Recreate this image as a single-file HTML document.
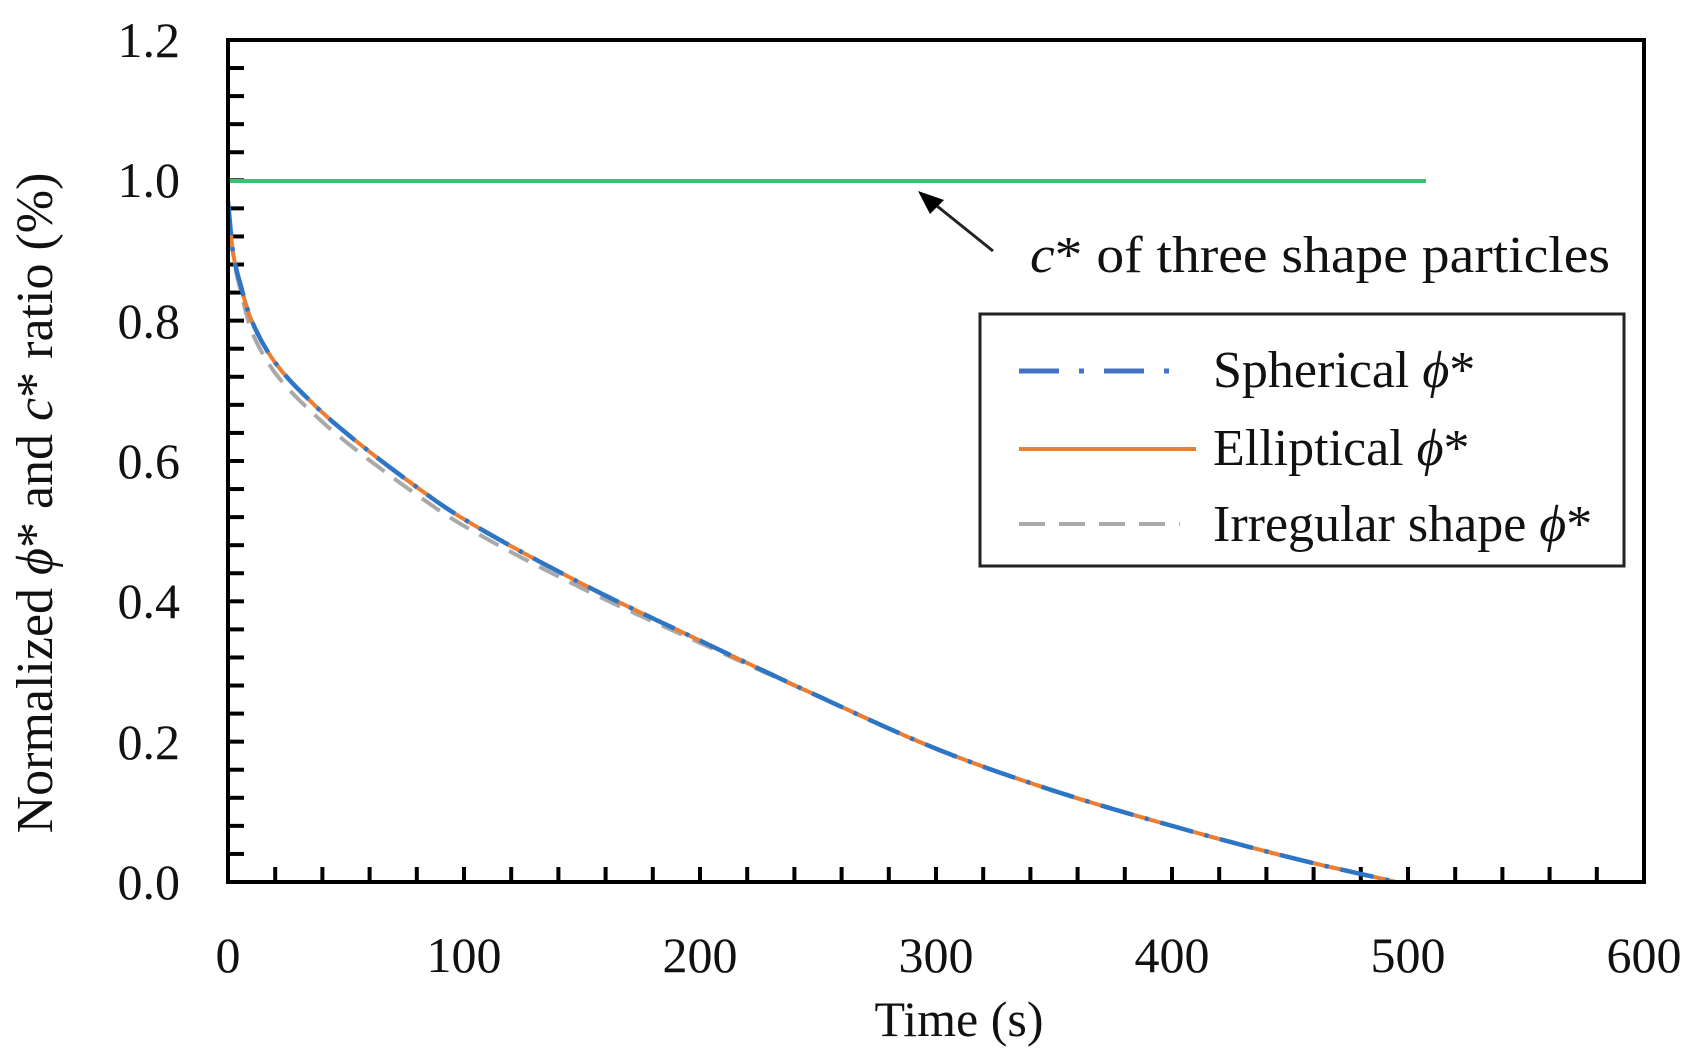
<!DOCTYPE html>
<html><head><meta charset="utf-8"><style>
html,body{margin:0;padding:0;background:#fff;}
svg{display:block;}
text{font-family:"Liberation Serif",serif;fill:#111;}
</style></head><body>
<svg id="s" width="1700" height="1058" viewBox="0 0 1700 1058" xmlns="http://www.w3.org/2000/svg">
<rect width="1700" height="1058" fill="#fff"/>
<g id="ticks" stroke="#000" stroke-width="4"></g>
<path id="gray" fill="none" stroke="#a9a9a9" stroke-width="4" stroke-dasharray="22 12"/>
<path id="orange" fill="none" stroke="#ed7d31" stroke-width="4"/>
<path id="blue" fill="none" stroke="#2e75c6" stroke-width="4.5" stroke-dasharray="34 12 4 12"/>
<line x1="228" y1="181" x2="1426" y2="181" stroke="#3cbf72" stroke-width="4"/>
<rect x="228" y="40" width="1416" height="842" fill="none" stroke="#000" stroke-width="4"/>
<g font-size="50" text-anchor="end">
<text x="180" y="57">1.2</text><text x="180" y="197">1.0</text><text x="180" y="338">0.8</text>
<text x="180" y="478">0.6</text><text x="180" y="618">0.4</text><text x="180" y="759">0.2</text><text x="180" y="899">0.0</text>
</g>
<g font-size="50" text-anchor="middle">
<text x="228" y="972">0</text><text x="464" y="972">100</text><text x="700" y="972">200</text>
<text x="936" y="972">300</text><text x="1172" y="972">400</text><text x="1408" y="972">500</text><text x="1644" y="972">600</text>
<text x="959" y="1036">Time (s)</text>
</g>
<text font-size="52" text-anchor="middle" transform="translate(52,503) rotate(-90)">Normalized <tspan font-style="italic">ϕ</tspan>* and <tspan font-style="italic">c</tspan>* ratio (%)</text>
<line x1="993" y1="251" x2="932" y2="202" stroke="#222" stroke-width="3"/>
<polygon points="918,191 944,200 930,214" fill="#000"/>
<text x="1030" y="272" font-size="52" textLength="580" lengthAdjust="spacingAndGlyphs"><tspan font-style="italic">c</tspan>* of  three shape particles</text>
<rect x="980" y="314" width="644" height="252" fill="#fff" stroke="#222" stroke-width="3"/>
<line x1="1019" y1="371" x2="1171" y2="371" stroke="#4472c4" stroke-width="5" stroke-dasharray="40 20 5 20"/>
<line x1="1019" y1="449" x2="1196" y2="449" stroke="#ed7d31" stroke-width="4"/>
<line x1="1019" y1="524" x2="1180" y2="524" stroke="#aaa" stroke-width="4" stroke-dasharray="26 14"/>
<g font-size="52">
<text x="1213" y="387">Spherical <tspan font-style="italic">ϕ</tspan>*</text>
<text x="1213" y="465">Elliptical  <tspan font-style="italic">ϕ</tspan>*</text>
<text x="1213" y="541">Irregular  shape <tspan font-style="italic">ϕ</tspan>*</text>
</g>
</svg>
<script>
var X=function(t){return 228+t*2.36;},Y=function(v){return 882-v*701.7;};
var g=document.getElementById('ticks'),h='';
for(var t=20;t<600;t+=20){h+='<line x1="'+X(t)+'" y1="882" x2="'+X(t)+'" y2="867"/>';}
for(var v=0.04;v<1.19;v+=0.04){h+='<line x1="228" y1="'+Y(v)+'" x2="244" y2="'+Y(v)+'"/>';}
g.innerHTML=h;
var P=[[0,0.97],[2,0.9],[5,0.855],[10,0.80],[20,0.74],[35,0.685],[50,0.64],[75,0.575],[100,0.517],[150,0.425],[200,0.344],[250,0.265],[300,0.19],[350,0.13],[400,0.08],[450,0.035],[495,0]];
function f(t){for(var i=0;i<P.length-1;i++){if(t<=P[i+1][0]){var a=P[i],b=P[i+1];
var p0=P[Math.max(i-1,0)],p3=P[Math.min(i+2,P.length-1)];var u=(t-a[0])/(b[0]-a[0]);
var m1=(b[1]-p0[1])/(b[0]-p0[0])*(b[0]-a[0]),m2=(p3[1]-a[1])/(p3[0]-a[0])*(b[0]-a[0]);
var u2=u*u,u3=u2*u;return (2*u3-3*u2+1)*a[1]+(u3-2*u2+u)*m1+(-2*u3+3*u2)*b[1]+(u3-u2)*m2;}}return 0;}
function path(off){var d='';for(var t=0;t<=495;t+=(t<20?0.5:3)){var o=off(t);d+=(d?'L':'M')+X(t).toFixed(1)+','+Y(Math.max(f(t)+o,0)).toFixed(1);}
d+='L'+X(495).toFixed(1)+','+Y(0).toFixed(1);return d;}
document.getElementById('orange').setAttribute('d',path(function(){return 0;}));
document.getElementById('blue').setAttribute('d',path(function(){return 0;}));
document.getElementById('gray').setAttribute('d',path(function(t){return t<3?0:(t<250?-0.016*Math.min(1,t/10)*(1-t/250):0);}));
</script>
</body></html>
